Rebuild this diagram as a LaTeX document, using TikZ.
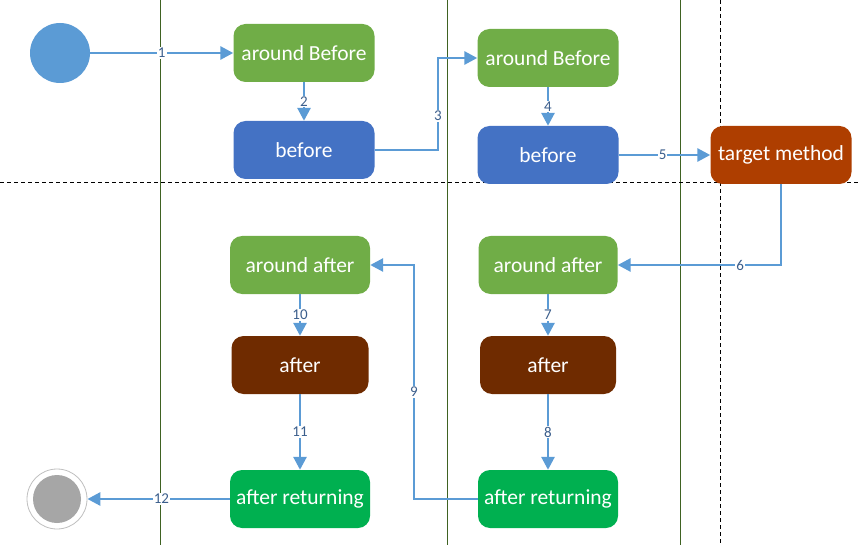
\documentclass[tikz,border=0pt]{standalone}
\usepackage{fontspec}
\setmainfont{Carlito}
\usetikzlibrary{arrows.meta}
\definecolor{cgreen}{HTML}{70AD47}
\definecolor{cblue}{HTML}{4472C4}
\definecolor{cstart}{HTML}{5B9BD5}
\definecolor{cedge}{HTML}{5B9BD5}
\definecolor{clabel}{HTML}{3B5E8C}
\definecolor{ctarget}{HTML}{AE3E00}
\definecolor{cafter}{HTML}{6F2B00}
\definecolor{cret}{HTML}{00B050}
\definecolor{clane}{HTML}{3F6222}
\tikzset{
  box/.style={rounded corners=12pt, minimum width=141pt, minimum height=58pt, inner sep=0pt, text=white, font=\fontsize{21.5}{24}\selectfont},
  gbox/.style={box, fill=cgreen},
  bbox/.style={box, fill=cblue},
  flow/.style={draw=cedge, line width=2.8pt, -{Triangle[length=13pt,width=13pt]}},
  lbl/.style={fill=white, inner sep=1pt, text=clabel, font=\fontsize{15}{17}\selectfont},
  lane/.style={draw=clane, line width=0.9pt},
  sep/.style={draw=black, line width=0.9pt, dash pattern=on 4pt off 3pt}
}
\begin{document}
\begin{tikzpicture}[x=1pt,y=-1pt]
\useasboundingbox (0,0) rectangle (861,545);
% lanes
\coordinate (l1t) at (160,0); \coordinate (l1b) at (160,545);
\coordinate (l2t) at (447,0); \coordinate (l2b) at (447,545);
\coordinate (l3t) at (680,0); \coordinate (l3b) at (680,545);
\coordinate (l4t) at (720,0); \coordinate (l4b) at (720,545);
\coordinate (hl) at (0,182); \coordinate (hr) at (861,182);
\draw[lane] (l1t) -- (l1b);
\draw[lane] (l2t) -- (l2b);
\draw[lane] (l3t) -- (l3b);
\draw[sep] (l4t) -- (l4b);
\draw[sep] (hl) -- (hr);
% nodes
\node[circle, fill=cstart, minimum size=60pt, inner sep=0pt] (start) at (60,53) {};
\node[gbox] (ab1) at (304,53) {around Before};
\node[bbox] (b1) at (304,150) {before};
\node[gbox] (ab2) at (548,58) {around Before};
\node[bbox] (b2) at (548,155) {before};
\node[box, fill=ctarget] (tm) at (781,155) {target method};
\node[gbox, minimum width=140pt] (aa1) at (300,265) {around after};
\node[box, fill=cafter, minimum width=137pt] (af1) at (300,365) {after};
\node[box, fill=cret, minimum width=140pt] (ar1) at (300,499) {after returning};
\node[gbox, minimum width=139pt] (aa2) at (548,265) {around after};
\node[box, fill=cafter, minimum width=136pt] (af2) at (548,365) {after};
\node[box, fill=cret, minimum width=140pt] (ar2) at (548,499) {after returning};
\node[circle, draw=black!25, line width=0.8pt, fill=white, minimum size=60pt, inner sep=0pt] (endo) at (57,499) {};
\node[circle, fill=black!35, minimum size=48pt, inner sep=0pt] (endi) at (57,499) {};
% connectors
\coordinate (c3) at (438,0);
\coordinate (c9) at (414,0);
\draw[flow] (start) -- node[lbl]{1} (ab1);
\draw[flow] (ab1) -- node[lbl]{2} (b1);
\draw[flow] (b1.east) -- (b1.east -| c3) -- node[lbl, pos=0.37]{3} (ab2.west -| c3) -- (ab2.west);
\draw[flow] (ab2) -- node[lbl]{4} (b2);
\draw[flow] (b2) -- node[lbl, pos=0.48]{5} (tm);
\draw[flow] (tm.south) |- node[lbl, pos=0.625]{6} (aa2.east);
\draw[flow] (aa2) -- node[lbl]{7} (af2);
\draw[flow] (af2) -- node[lbl]{8} (ar2);
\draw[flow] (ar2.west) -- (ar2.west -| c9) -- node[lbl, pos=0.457]{9} (aa1.east -| c9) -- (aa1.east);
\draw[flow] (aa1) -- node[lbl]{10} (af1);
\draw[flow] (af1) -- node[lbl]{11} (ar1);
\draw[flow] (ar1) -- node[lbl, pos=0.48]{12} (endo);
\end{tikzpicture}
\end{document}
